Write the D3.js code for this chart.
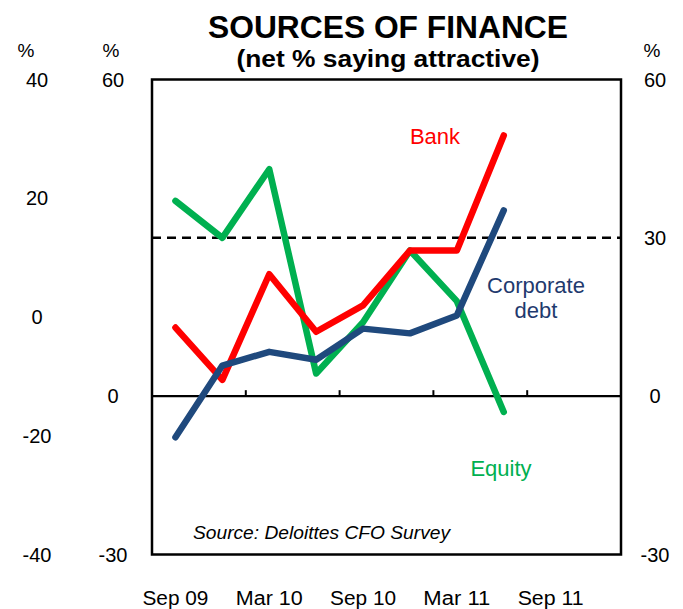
<!DOCTYPE html>
<html>
<head>
<meta charset="utf-8">
<script src="https://cdn.jsdelivr.net/npm/d3@7"></script>
<style>
  body { margin: 0; background: #fff; }
  svg { display: block; font-family: "Liberation Sans", Arial, sans-serif; }
</style>
</head>
<body>
<div id="chart"></div>
<script>
// quarterly categories, labels every second one
const quarters = ["Sep 09", "Dec 09", "Mar 10", "Jun 10", "Sep 10", "Dec 10", "Mar 11", "Jun 11", "Sep 11", "Dec 11"];
const xLabels = ["Sep 09", "Mar 10", "Sep 10", "Mar 11", "Sep 11"];

const bank = [13.0, 3.1, 23.1, 12.2, 17.2, 27.6, 27.6, 49.4];
const corporateDebt = [-7.8, 5.8, 8.4, 6.9, 12.8, 11.9, 15.3, 35.2];
const equity = [37.0, 30.0, 43.0, 4.3, 14.0, 27.6, 18.0, -3.0];

const leftOuterTicks = [40, 20, 0, -20, -40];
const leftInnerTicks = [60, 0, -30];
const rightTicks = [60, 30, 0, -30];

const W = 683, H = 609;
const m = { left: 152, right: 62, top: 79.5, bottom: 54.5 };
const pw = W - m.left - m.right;
const ph = H - m.top - m.bottom;

const svg = d3.select("#chart").append("svg")
  .attr("width", W).attr("height", H);

const x = d3.scaleBand().domain(quarters).range([m.left, m.left + pw]);
const y = d3.scaleLinear().domain([-30, 60]).range([m.top + ph, m.top]);
const yOuter = d3.scaleLinear().domain([-40, 40]).range([m.top + ph, m.top]);
const cx = (q) => x(q) + x.bandwidth() / 2;

// titles
svg.append("text")
  .attr("x", 388).attr("y", 38)
  .attr("text-anchor", "middle")
  .style("font-weight", "bold").style("font-size", "31px")
  .attr("textLength", 360).attr("lengthAdjust", "spacingAndGlyphs")
  .text("SOURCES OF FINANCE");
svg.append("text")
  .attr("x", 388).attr("y", 67)
  .attr("text-anchor", "middle")
  .style("font-weight", "bold").style("font-size", "23px")
  .attr("textLength", 303).attr("lengthAdjust", "spacingAndGlyphs")
  .text("(net % saying attractive)");

// % unit labels
[[26, "%"], [111, "%"], [652, "%"]].forEach(([px, t]) => {
  svg.append("text").attr("x", px).attr("y", 57)
    .attr("text-anchor", "middle").style("font-size", "19px").text(t);
});

// y tick labels
function tickLabels(vals, scale, xPos) {
  svg.append("g").selectAll("text").data(vals).enter().append("text")
    .attr("x", xPos).attr("y", (d) => scale(d))
    .attr("dy", "0.35em")
    .attr("text-anchor", "middle")
    .style("font-size", "20px")
    .text((d) => d);
}
tickLabels(leftOuterTicks, yOuter, 37);
tickLabels(leftInnerTicks, y, 113);
tickLabels(rightTicks, y, 655);

// x labels
svg.append("g").selectAll("text").data(xLabels).enter().append("text")
  .attr("x", (d) => cx(d)).attr("y", 605)
  .attr("text-anchor", "middle")
  .style("font-size", "20px")
  .attr("textLength", (d) => d[0] === "M" ? 67 : 66)
  .attr("lengthAdjust", "spacingAndGlyphs")
  .text((d) => d);

// dashed line at 30
svg.append("line")
  .attr("x1", m.left).attr("x2", m.left + pw)
  .attr("y1", y(30)).attr("y2", y(30))
  .attr("stroke", "#000").attr("stroke-width", 2.5)
  .attr("stroke-dasharray", "9,6");

// zero line + ticks
svg.append("line")
  .attr("x1", m.left).attr("x2", m.left + pw)
  .attr("y1", y(0)).attr("y2", y(0))
  .attr("stroke", "#000").attr("stroke-width", 2.2);

const tickCats = quarters.filter((d, i) => i % 2 === 0 && i > 0);
svg.append("g").selectAll("line").data(tickCats).enter().append("line")
  .attr("x1", (d) => x(d)).attr("x2", (d) => x(d))
  .attr("y1", y(0)).attr("y2", y(0) - 6)
  .attr("stroke", "#000").attr("stroke-width", 2);

// series
const series = [
  { name: "Equity", values: equity, color: "#00B050" },
  { name: "Bank", values: bank, color: "#FF0000" },
  { name: "Corporate debt", values: corporateDebt, color: "#1F497D" },
];

const line = d3.line()
  .x((d, i) => cx(quarters[i]))
  .y((d) => y(d));

svg.append("g").selectAll("path").data(series).enter().append("path")
  .attr("d", (s) => line(s.values))
  .attr("fill", "none")
  .attr("stroke", (s) => s.color)
  .attr("stroke-width", 6.5)
  .attr("stroke-linejoin", "round")
  .attr("stroke-linecap", "round");

// plot border
svg.append("rect")
  .attr("x", m.left).attr("y", m.top)
  .attr("width", pw).attr("height", ph)
  .attr("fill", "none").attr("stroke", "#000").attr("stroke-width", 2.5);

// series labels
svg.append("text").attr("x", 435).attr("y", 144)
  .attr("text-anchor", "middle").style("font-size", "22px")
  .attr("fill", "#FF0000").text("Bank");
svg.append("text").attr("x", 536).attr("y", 293)
  .attr("text-anchor", "middle").style("font-size", "22px")
  .attr("fill", "#1F3A6E").text("Corporate");
svg.append("text").attr("x", 536).attr("y", 318)
  .attr("text-anchor", "middle").style("font-size", "22px")
  .attr("fill", "#1F3A6E").text("debt");
svg.append("text").attr("x", 501).attr("y", 476)
  .attr("text-anchor", "middle").style("font-size", "22px")
  .attr("fill", "#00B050").text("Equity");

// source
svg.append("text").attr("x", 193).attr("y", 539)
  .style("font-size", "18px").style("font-style", "italic")
  .attr("textLength", 257).attr("lengthAdjust", "spacingAndGlyphs")
  .text("Source:  Deloittes  CFO Survey");
</script>
</body>
</html>
